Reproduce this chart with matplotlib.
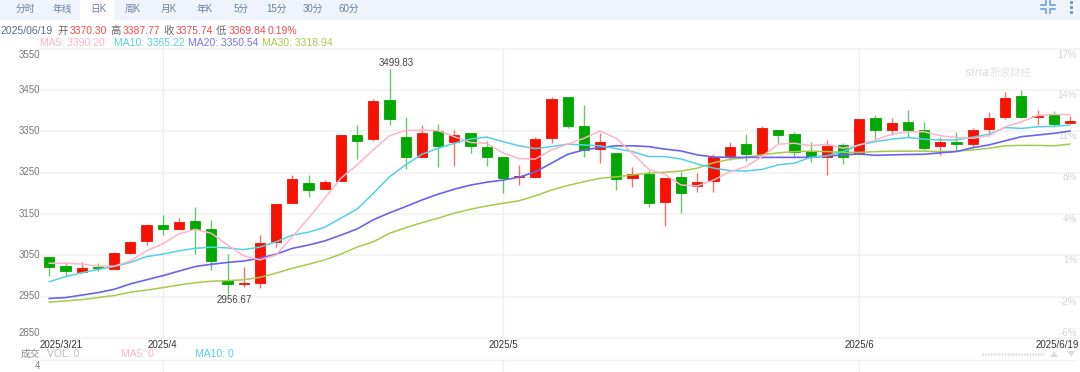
import matplotlib
matplotlib.use('Agg')
import matplotlib.pyplot as plt
from matplotlib.patches import Rectangle, Polygon

plt.rcParams['font.family'] = ['Liberation Sans', 'Noto Sans CJK SC']

# candles, open / high / low / close
opens = [3045, 3024, 3011, 3022, 3018, 3057, 3086, 3124, 3113, 3133, 3114, 2991, 2980, 2983, 3082, 3176,
         3225, 3211, 3230, 3342, 3331, 3425, 3337, 3288, 3351, 3324, 3345, 3313, 3288, 3239, 3240, 3334,
         3432, 3363, 3307, 3298, 3238, 3248, 3178, 3239, 3218, 3230, 3290, 3319, 3294, 3354, 3343, 3302,
         3287, 3317, 3296, 3382, 3353, 3373, 3354, 3314, 3324, 3319, 3355, 3384, 3435, 3385, 3390, 3370.30]
highs = [3045, 3031, 3035, 3031, 3058, 3085, 3127, 3148, 3141, 3166, 3136, 3054, 3021, 3099, 3175, 3244,
         3245, 3232, 3342, 3365, 3428, 3499.83, 3384, 3365, 3368, 3352, 3345, 3327, 3288, 3268, 3336, 3432,
         3432, 3413, 3347, 3298, 3264, 3257, 3237, 3251, 3249, 3295, 3323, 3344, 3363, 3354, 3348, 3324,
         3329, 3321, 3380, 3390, 3382, 3402, 3373, 3336, 3348, 3358, 3397, 3444, 3449, 3401, 3399, 3387.77]
lows = [2999, 3001, 3007, 3012, 3018, 3053, 3075, 3099, 3113, 3053, 3015, 2956.67, 2974, 2970, 3070, 3176,
        3192, 3211, 3230, 3282, 3327, 3365, 3259, 3288, 3264, 3266, 3298, 3266, 3201, 3221, 3237, 3322,
        3359, 3287, 3273, 3207, 3215, 3167, 3120, 3153, 3204, 3203, 3281, 3279, 3286, 3321, 3285, 3276,
        3245, 3270, 3296, 3332, 3341, 3337, 3305, 3292, 3302, 3313, 3339, 3379, 3383, 3365, 3361, 3369.84]
closes = [3022, 3012, 3019, 3019, 3055, 3083, 3123, 3113, 3130, 3113, 3036, 2980, 2983, 3081, 3174, 3235,
          3209, 3228, 3341, 3326, 3423, 3379, 3287, 3347, 3314, 3341, 3315, 3287, 3236, 3242, 3331, 3427,
          3363, 3305, 3323, 3234, 3246, 3176, 3237, 3201, 3228, 3287, 3313, 3295, 3358, 3342, 3301, 3287,
          3315, 3289, 3380, 3352, 3370, 3352, 3310, 3323, 3319, 3352, 3383, 3430, 3384, 3386, 3367, 3375.74]

ma5 = [3031, 3031, 3029, 3024, 3024, 3036.5, 3061, 3078, 3102, 3113, 3103.5, 3075, 3049, 3039, 3051, 3095,
       3140, 3188, 3236.5, 3269, 3305, 3339.5, 3352, 3353, 3352, 3337, 3323, 3321, 3298, 3284, 3283, 3305,
       3319, 3333, 3351, 3333, 3297, 3258, 3246, 3220, 3218, 3232, 3252, 3264.5, 3289, 3319, 3321, 3315,
       3319, 3309, 3317, 3329, 3343, 3349, 3349, 3339.5, 3335, 3333, 3339.5, 3361, 3373, 3388, 3391, 3390.20]
ma10 = [2986.5, 2998.5, 3008, 3016, 3023, 3033, 3047, 3053, 3061, 3067, 3070, 3068, 3064, 3070, 3083, 3099,
        3106, 3118, 3140, 3162, 3200, 3240, 3269, 3294.5, 3309, 3321, 3331.5, 3336, 3325, 3315, 3308, 3313,
        3319, 3317, 3315, 3308, 3301, 3289, 3289, 3283, 3271, 3261, 3255, 3254, 3258, 3269, 3273, 3287,
        3291, 3301, 3317, 3325, 3331, 3335, 3331, 3329, 3329, 3336, 3343, 3359, 3357, 3361, 3362, 3365.22]
ma20 = [2946, 2948, 2954, 2960, 2968, 2981, 2991, 3001, 3012, 3023, 3028.5, 3033, 3036.5, 3043, 3053, 3067,
        3075, 3085, 3099, 3114, 3136, 3153, 3168, 3184, 3198, 3210, 3220, 3227, 3232, 3239, 3252, 3273,
        3294.5, 3305, 3311, 3315, 3315, 3313, 3307, 3302.5, 3293, 3288, 3287, 3287, 3287, 3287, 3287, 3287,
        3290, 3293, 3295, 3292, 3293, 3294, 3294.5, 3298, 3301, 3310.5, 3317, 3327, 3337, 3341, 3345, 3350.54]
ma30 = [2937, 2940, 2943, 2948, 2953, 2961, 2966, 2972, 2978.5, 2984, 2987.5, 2989, 2991, 2997, 3007, 3019,
        3028.5, 3039, 3053, 3070, 3083, 3103.5, 3117, 3129, 3140, 3152, 3161.5, 3169.5, 3176, 3182, 3194, 3208,
        3219, 3228, 3236.5, 3240, 3244.5, 3249, 3251, 3254, 3261, 3274, 3282, 3287, 3293, 3298, 3301, 3302,
        3301, 3299, 3299, 3301, 3302, 3302, 3302, 3301, 3302, 3305, 3309, 3315, 3316, 3316, 3315, 3318.94]

left_ticks = [3550, 3450, 3350, 3250, 3150, 3050, 2950, 2850]
right_labels = ['17%', '14%', '11%', '8%', '4%', '1%', '-2%', '-6%']
month_idx = [7, 28, 50]
month_labels = ['2025/4', '2025/5', '2025/6']
tabs = ['分时', '年线', '日K', '周K', '月K', '年K', '5分', '15分', '30分', '60分']

W, H = 1080, 372
RED = '#f51200'
GREEN = '#00a800'

fig = plt.figure(figsize=(W / 100, H / 100), dpi=100)

# overlay in image pixels, for the page furniture around the chart
bg = fig.add_axes([0, 0, 1, 1])
bg.set_xlim(0, W)
bg.set_ylim(H, 0)
bg.axis('off')

# main panel
x0, x1, y0, y1 = 40, 1080, 49, 338
ax = fig.add_axes([x0 / W, 1 - y1 / H, (x1 - x0) / W, (y1 - y0) / H])
ax.patch.set_alpha(0)
ax.set_xlim((x0 - 49.3) / 16.2, (x1 - 49.3) / 16.2)
ax.set_ylim(2850.3, 3549)
for s in ax.spines.values():
    s.set_visible(False)
ax.set_xticks([])
ax.set_yticks([])

for v in left_ticks:
    ax.axhline(v, color='#f2f2f2', lw=1.2, zorder=1, clip_on=False)
for i in month_idx:
    ax.axvline(i, color='#efefef', lw=1, zorder=1)

days = range(len(opens))
for i in days:
    color = RED if closes[i] >= opens[i] else GREEN
    ax.vlines(i, lows[i], highs[i], color=color, lw=1, alpha=0.6, zorder=2)
    ax.add_patch(Rectangle((i - 0.32, min(opens[i], closes[i])), 0.64, abs(closes[i] - opens[i]),
                           facecolor=color, edgecolor=color, lw=0.6, zorder=3))

ax.plot(days, ma30, color='#a8c94a', lw=1.1, zorder=4)
ax.plot(days, ma20, color='#6a62f0', lw=1.2, zorder=5)
ax.plot(days, ma10, color='#55d0e6', lw=1.1, zorder=6)
ax.plot(days, ma5, color='#ffb3c8', lw=1.1, zorder=7)

ax.annotate('3499.83', (21, 3499.83), xytext=(5, 1), textcoords='offset points', ha='center', va='bottom',
            fontsize=7, color='#444444')
ax.annotate('2956.67', (11, 2956.67), xytext=(5, -1), textcoords='offset points', ha='center', va='top',
            fontsize=7, color='#444444')

# left and right scale labels
left_y = [55, 90, 131, 172, 214, 255, 296, 333]
right_y = [55, 95, 136, 177, 219, 260, 302, 333]
for v, y in zip(left_ticks, left_y):
    bg.text(40, y, str(v), ha='right', va='center', fontsize=7, color='#777777')
for t, y in zip(right_labels, right_y):
    bg.text(1077, y, t, ha='right', va='center', fontsize=7, color='#d4d4d4')

# date axis
bg.text(40, 345, '2025/3/21', ha='left', va='center', fontsize=7, color='#333333')
for i, t in zip(month_idx, month_labels):
    bg.text(49.3 + 16.2 * i, 345, t, ha='center', va='center', fontsize=7, color='#333333')
bg.text(1079, 345, '2025/6/19', ha='right', va='center', fontsize=7, color='#333333')

# tab bar
bg.add_patch(Rectangle((0, 0), W, 20, facecolor='#eff4fc', edgecolor='none'))
bg.add_patch(Rectangle((80, 0), 35, 20, facecolor='white', edgecolor='none'))
for t, x in zip(tabs, [25, 62, 98, 133, 169, 205, 241, 277, 313, 349]):
    bg.text(x, 9, t, ha='center', va='center', fontsize=7, color='#6d7f9c')

# shrink icon and menu dots
for sx, sy in [(-1, -1), (1, -1), (-1, 1), (1, 1)]:
    cx, cy = 1048 + sx * 2, 7 + sy * 2
    bg.plot([cx + sx * 5, cx, cx], [cy, cy, cy + sy * 4], color='#6f9fe0', lw=1.2)
for y in [2, 7, 12]:
    bg.add_patch(Rectangle((1070, y - 1), 2.5, 2.5, facecolor='#6f9fe0', edgecolor='none'))

# info rows
row1 = [(0, '2025/06/19', '#5b6b8c'), (57, '开', '#666666'), (70, '3370.30', '#f24a4a'),
        (110, '高', '#666666'), (123, '3387.77', '#f24a4a'), (163, '收', '#666666'),
        (176, '3375.74', '#f24a4a'), (216, '低', '#666666'), (229, '3369.84', '#f24a4a'),
        (268, '0.19%', '#f24a4a')]
for x, t, c in row1:
    bg.text(x, 30.5, t, ha='left', va='center', fontsize=7.5, color=c)
row2 = [(40, 'MA5: 3390.20', '#ffb3c8'), (114, 'MA10: 3365.22', '#55d0e6'),
        (188, 'MA20: 3350.54', '#7a72f0'), (262, 'MA30: 3318.94', '#a8c94a')]
for x, t, c in row2:
    bg.text(x, 43.5, t, ha='left', va='center', fontsize=7.5, color=c)

# watermark
bg.text(990, 73, 'sina', ha='right', va='center', fontsize=9, style='italic', weight='bold', color='#e4e4e4')
bg.text(990, 73, '新浪财经', ha='left', va='center', fontsize=7.6, style='italic', color='#e4e4e4')

# volume strip
bg.text(21, 354, '成交', ha='left', va='center', fontsize=7, color='#888888')
bg.text(47, 354, 'VOL: 0', ha='left', va='center', fontsize=7.5, color='#bbbbbb')
bg.text(121, 354, 'MA5: 0', ha='left', va='center', fontsize=7.5, color='#ffb3c8')
bg.text(195, 354, 'MA10: 0', ha='left', va='center', fontsize=7.5, color='#55d0e6')
bg.text(40, 366, '4', ha='right', va='center', fontsize=7, color='#777777')
bg.plot([40, 1077], [360, 360], color='#f2f2f2', lw=1)
for i in month_idx:
    bg.plot([49.3 + 16.2 * i] * 2, [360, 372], color='#efefef', lw=1)

# scroll control
bg.plot([982, 1044], [353.5, 353.5], color='#dddddd', lw=2, ls=(0, (0.5, 0.5)))
bg.add_patch(Polygon([[1050, 357], [1058, 357], [1054, 351]], facecolor='#dddddd', edgecolor='none'))
bg.add_patch(Polygon([[1067, 351], [1075, 351], [1071, 357]], facecolor='#dddddd', edgecolor='none'))

fig.savefig('out.png', dpi=100)
